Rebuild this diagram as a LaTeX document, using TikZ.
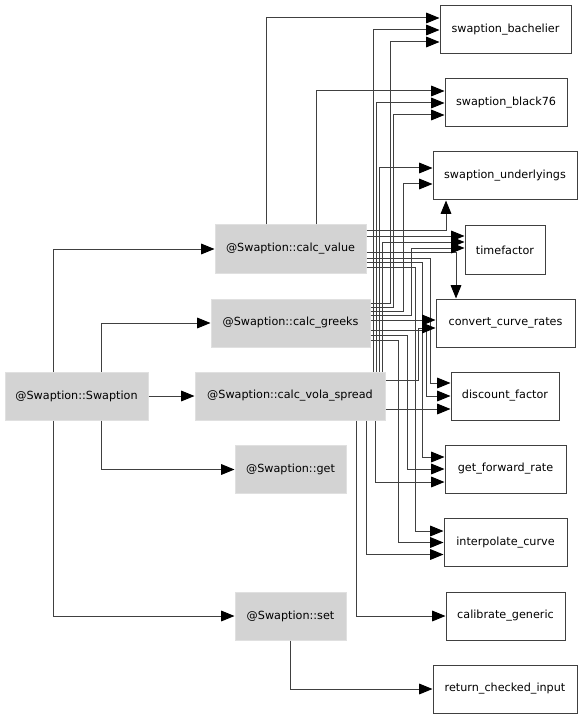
\documentclass[tikz,border=0pt]{standalone}
\usepackage{fontspec}
\setmainfont{DejaVu Sans}
\usetikzlibrary{arrows.meta,calc}
\definecolor{fngray}{RGB}{211,211,211}
\definecolor{edgegray}{RGB}{64,64,64}
\tikzset{every picture/.style={line width=0.75pt}}
\tikzset{
  boxw/.style={minimum width=#1*0.75pt},
  fn/.style={draw=fngray!70!white,fill=fngray,minimum height=36pt,inner sep=0pt,font=\fontsize{8.4}{10}\selectfont},
  ext/.style={draw=edgegray,fill=white,minimum height=36pt,inner sep=0pt,font=\fontsize{8.4}{10}\selectfont},
  call/.style={draw=edgegray,-{Triangle[length=10pt,width=8pt,color=black]}}
}
\begin{document}
\begin{tikzpicture}[x=0.75pt,y=0.75pt,yscale=-1]
\useasboundingbox (0,0) rectangle (583,720);

%Methods of the class
\node[fn,boxw=143] (ctor) at (76.5,396) {@Swaption::Swaption};
\node[fn,boxw=151] (cv) at (290.5,249) {@Swaption::calc\_value};
\node[fn,boxw=159] (cg) at (290.5,323) {@Swaption::calc\_greeks};
\node[fn,boxw=190] (cvs) at (290,396) {@Swaption::calc\_vola\_spread};
\node[fn,boxw=111] (get) at (290.5,469.5) {@Swaption::get};
\node[fn,boxw=111] (set) at (290.5,616) {@Swaption::set};

%Called functions
\node[ext,boxw=131] (bach) at (505.5,30) {swaption\_bachelier};
\node[ext,boxw=122] (b76) at (506,103) {swaption\_black76};
\node[ext,boxw=144] (und) at (505,176) {swaption\_underlyings};
\node[ext,boxw=80] (tf) at (505,250) {timefactor};
\node[ext,boxw=139] (ccr) at (505.5,323) {convert\_curve\_rates};
\node[ext,boxw=108] (df) at (505,396) {discount\_factor};
\node[ext,boxw=121] (gfr) at (505.5,469) {get\_forward\_rate};
\node[ext,boxw=123] (ic) at (505.5,542.5) {interpolate\_curve};
\node[ext,boxw=119] (cal) at (505.5,616) {calibrate\_generic};
\node[ext,boxw=144] (rci) at (505,689) {return\_checked\_input};

%Calls from the constructor
\draw[call] ($(ctor.north)+(-23.5,0)$) |- (cv.west);
\draw[call] ($(ctor.north)+(24.5,0)$) |- (cg.west);
\draw[call] (ctor) -- (cvs);
\draw[call] ($(ctor.south)+(24.5,0)$) |- (get.west);
\draw[call] ($(ctor.south)+(-23.5,0)$) |- (set.west);
\draw[call] (set.south) |- (rci.west);

%Calls from calc_value
\draw[call] ($(cv.north)+(-24.5,0)$) |- ($(bach.west)+(0,-12)$);
\draw[call] ($(cv.north)+(25.5,0)$) |- ($(b76.west)+(0,-12)$);
\draw[call] ($(cv.east)+(0,-19)$) -| ($(und.south)+(-59,0)$);
\draw[call] ($(cv.east)+(0,-13)$) -- ($(tf.west)+(0,-14)$);
\draw[call] ($(cv.east)+(0,3)$) -| ($(ccr.north)+(-49.5,0)$);
\draw[call] ($(cv.east)+(0,9)$) -| ($(df.west)+(-20,-13)$) -- ($(df.west)+(0,-13)$);
\draw[call] ($(cv.east)+(0,13)$) -| ($(gfr.west)+(-22,-12)$) -- ($(gfr.west)+(0,-12)$);
\draw[call] ($(cv.east)+(0,18)$) -| ($(ic.west)+(-28,-11.5)$) -- ($(ic.west)+(0,-11.5)$);

%Calls from calc_greeks
\draw[call] ($(cg.east)+(0,-20)$) -| ($(bach.west)+(-49,12)$) -- ($(bach.west)+(0,12)$);
\draw[call] ($(cg.east)+(0,-16)$) -| ($(b76.west)+(-51,12)$) -- ($(b76.west)+(0,12)$);
\draw[call] ($(cg.east)+(0,-12)$) -| ($(und.west)+(-29,8)$) -- ($(und.west)+(0,8)$);
\draw[call] ($(cg.east)+(0,-8)$) -| ($(tf.west)+(-53,-2)$) -- ($(tf.west)+(0,-2)$);
\draw[call] ($(cg.east)+(0,-3)$) -- ($(ccr.west)+(0,-3)$);
\draw[call] ($(cg.east)+(0,7)$) -| ($(df.west)+(-24,0)$) -- (df.west);
\draw[call] ($(cg.east)+(0,12)$) -| ($(gfr.west)+(-37,0)$) -- (gfr.west);
\draw[call] ($(cg.east)+(0,17)$) -| ($(ic.west)+(-45,0)$) -- (ic.west);

%Calls from calc_vola_spread
\draw[call] ($(cvs.north)+(83,0)$) |- (bach.west);
\draw[call] ($(cvs.north)+(86,0)$) |- (b76.west);
\draw[call] ($(cvs.north)+(89,0)$) |- ($(und.west)+(0,-8)$);
\draw[call] ($(cvs.north)+(92,0)$) |- ($(tf.west)+(0,-8)$);
\draw[call] ($(cvs.east)+(0,-16)$) -| ($(ccr.west)+(-17,5)$) -- ($(ccr.west)+(0,5)$);
\draw[call] ($(cvs.east)+(0,13)$) -- ($(df.west)+(0,13)$);
\draw[call] ($(cvs.south)+(85,0)$) |- ($(gfr.west)+(0,13)$);
\draw[call] ($(cvs.south)+(76,0)$) |- ($(ic.west)+(0,12)$);
\draw[call] ($(cvs.south)+(66,0)$) |- (cal.west);

\end{tikzpicture}
\end{document}
